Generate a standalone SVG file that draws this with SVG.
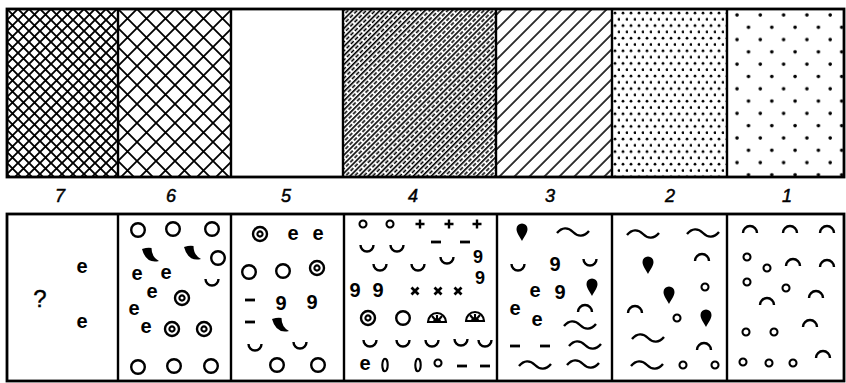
<svg xmlns="http://www.w3.org/2000/svg" width="846" height="383" viewBox="0 0 846 383">
<style>
.s{fill:none;stroke:#000;stroke-width:2.4}
.t{fill:none;stroke:#000;stroke-width:2.1}
.f{fill:#000}
.b{fill:none;stroke:#000;stroke-width:2.8}
.g{font-family:"Liberation Sans",Arial,sans-serif;font-weight:bold;font-size:20px;text-anchor:middle;fill:#000}
.n{font-family:"Liberation Sans",Arial,sans-serif;font-style:italic;font-size:18px;text-anchor:middle;fill:#000;stroke:#000;stroke-width:0.5}
</style>
<defs>
<pattern id="p7" patternUnits="userSpaceOnUse" x="7" y="9" width="11" height="11">
<path d="M-1,-1L12,12M-1,12L12,-1" stroke="#000" stroke-width="1.9"/>
</pattern>
<pattern id="p6" patternUnits="userSpaceOnUse" x="118" y="9" width="19" height="19">
<path d="M-1,-1L20,20M-1,20L20,-1" stroke="#000" stroke-width="1.8"/>
</pattern>
<pattern id="p4" patternUnits="userSpaceOnUse" x="0" y="0" width="12" height="6.4" patternTransform="rotate(-45)">
<path d="M-1,0.8H13" stroke="#000" stroke-width="1.6"/>
<path d="M1,4H5M7,4H11" stroke="#000" stroke-width="1.5"/>
</pattern>
<pattern id="p3" patternUnits="userSpaceOnUse" x="0" y="0" width="20" height="10.6" patternTransform="rotate(-45)">
<path d="M-1,1H21" stroke="#000" stroke-width="1.6"/>
</pattern>
<pattern id="p2" patternUnits="userSpaceOnUse" x="612" y="9" width="8" height="12.6">
<circle cx="3" cy="4" r="1.4" fill="#000"/>
<circle cx="7" cy="10.3" r="1.4" fill="#000"/>
</pattern>
<pattern id="p1" patternUnits="userSpaceOnUse" x="731" y="9" width="23.3" height="24.6">
<circle cx="6" cy="6" r="1.8" fill="#000"/>
<circle cx="17.5" cy="18.3" r="1.8" fill="#000"/>
</pattern>
<circle id="circ" r="6.8" class="s"/>
<g id="dcirc"><circle r="7" class="s"/><circle r="2.6" class="t"/></g>
<circle id="sc" r="3.5" class="t"/>
<path id="cup" d="M-6.5,-3A6.5,6.5 0 0 0 6.5,-3" class="s"/>
<path id="cap" d="M-7,3A7,7 0 0 1 7,3" class="s"/>
<path id="wave" d="M-16,1C-11,-5 -5,-5 0,0S11,5 16,-1" class="s"/>
<path id="tear" d="M0,9C-2,5 -5.5,1 -5.5,-3A5.5,5.5 0 0 1 5.5,-3C5.5,1 2,5 0,9Z" class="f"/>
<path id="horn" d="M-8,-6Q-2,-8 1.5,-7Q1.5,2 9,6Q-4,9 -8,-6Z" class="f"/>
<path id="dash" d="M-5,0H5" class="b"/>
<path id="plus" d="M-4.5,0H4.5M0,-4.5V4.5" class="s"/>
<path id="cross" d="M-3.5,-3.5L3.5,3.5M-3.5,3.5L3.5,-3.5" class="b"/>
<g id="fan"><path d="M-9,4A9,9 0 0 1 9,4Z" class="t"/><path d="M0,4L-5,-2M0,4L0,-3M0,4L5,-2M-3,4A3,3 0 0 1 3,4" class="t"/></g>
<ellipse id="ell" rx="2.7" ry="6.3" class="t"/>
</defs>

<g id="top-row">
<rect x="7" y="9" width="111" height="168" fill="url(#p7)"/>
<rect x="118" y="9" width="113" height="168" fill="url(#p6)"/>
<rect x="231" y="9" width="112" height="168" fill="#fff"/>
<rect x="343" y="9" width="153" height="168" fill="url(#p4)"/>
<rect x="496" y="9" width="116" height="168" fill="url(#p3)"/>
<rect x="612" y="9" width="115" height="168" fill="url(#p2)"/>
<rect x="727" y="9" width="117" height="168" fill="url(#p1)"/>
<rect x="7" y="9" width="837" height="168" class="b"/>
<path d="M118,9V177M231,9V177M343,9V177M496,9V177M612,9V177M727,9V177" class="s"/>
</g>

<g id="labels">
<text class="n" x="60" y="202">7</text>
<text class="n" x="171" y="202">6</text>
<text class="n" x="286" y="202">5</text>
<text class="n" x="413" y="202">4</text>
<text class="n" x="550" y="202">3</text>
<text class="n" x="670" y="202">2</text>
<text class="n" x="787" y="202">1</text>
</g>

<g id="bottom-row">
<rect x="7" y="214" width="837" height="167" class="b"/>
<path d="M118,214V381M231,214V381M344,214V381M497,214V381M612,214V381M727,214V381" class="s"/>
</g>

<g id="panel7">
<text class="g" x="82" y="273">e</text>
<text class="g" x="82" y="328">e</text>
<text x="40" y="307" font-family="Liberation Sans, Arial, sans-serif" font-size="24" text-anchor="middle" stroke="#000" stroke-width="0.4">?</text>
</g>

<g id="panel6">
<use href="#circ" x="138" y="230"/><use href="#circ" x="173" y="229"/><use href="#circ" x="212" y="229"/>
<use href="#horn" x="150" y="255"/><use href="#horn" x="192" y="253"/><use href="#circ" x="218" y="258"/>
<text class="g" x="137" y="280">e</text><text class="g" x="166" y="279">e</text>
<use href="#cup" x="212" y="282"/>
<text class="g" x="152" y="298">e</text>
<use href="#dcirc" x="182" y="298"/>
<text class="g" x="134" y="315">e</text>
<text class="g" x="146" y="333">e</text>
<use href="#dcirc" x="172" y="329"/><use href="#dcirc" x="204" y="329"/>
<use href="#circ" x="138" y="367"/><use href="#circ" x="174" y="366"/><use href="#circ" x="211" y="366"/>
</g>

<g id="panel5">
<use href="#dcirc" x="260" y="234"/>
<text class="g" x="293" y="240">e</text><text class="g" x="318" y="240">e</text>
<use href="#circ" x="249" y="272"/><use href="#circ" x="283" y="271"/><use href="#dcirc" x="317" y="268"/>
<use href="#dash" x="250" y="300"/>
<text class="g" x="281" y="310">9</text><text class="g" x="312" y="309">9</text>
<use href="#dash" x="250" y="322"/>
<use href="#horn" x="280" y="325"/>
<use href="#cup" x="255" y="347"/><use href="#cup" x="300" y="345"/>
<use href="#circ" x="277" y="365"/><use href="#circ" x="318" y="365"/>
</g>

<g id="panel4">
<use href="#sc" x="363" y="224"/><use href="#sc" x="390" y="224"/>
<use href="#plus" x="420" y="224"/><use href="#plus" x="449" y="224"/><use href="#plus" x="477" y="224"/>
<use href="#dash" x="436" y="242"/><use href="#dash" x="465" y="242"/>
<use href="#cup" x="367" y="248"/><use href="#cup" x="397" y="248"/>
<use href="#cup" x="380" y="267"/><use href="#cup" x="418" y="267"/><use href="#cup" x="447" y="260"/>
<text class="g" x="478" y="263" style="font-size:18px">9</text><text class="g" x="480" y="284" style="font-size:18px">9</text>
<text class="g" x="355" y="297">9</text><text class="g" x="378" y="297">9</text>
<use href="#cross" x="415" y="291"/><use href="#cross" x="438" y="291"/><use href="#cross" x="458" y="291"/>
<use href="#dcirc" x="368" y="318"/><use href="#circ" x="403" y="318"/>
<use href="#fan" x="437" y="318"/><use href="#fan" x="475" y="317"/>
<use href="#cup" x="370" y="343"/><use href="#cup" x="403" y="343"/><use href="#cup" x="432" y="343"/><use href="#cup" x="461" y="342"/><use href="#cup" x="485" y="343"/>
<text class="g" x="365" y="370">e</text>
<use href="#ell" x="385" y="365"/><use href="#ell" x="418" y="365"/>
<use href="#sc" x="438" y="363"/>
<use href="#dash" x="462" y="366"/><use href="#dash" x="485" y="366"/>
</g>

<g id="panel3">
<use href="#tear" x="522" y="232"/>
<use href="#wave" x="573" y="232"/>
<use href="#cup" x="518" y="267"/>
<text class="g" x="555" y="271">9</text>
<use href="#cup" x="590" y="262"/>
<text class="g" x="535" y="297">e</text>
<text class="g" x="560" y="299">9</text>
<use href="#tear" x="592" y="287"/>
<text class="g" x="515" y="315">e</text>
<use href="#cap" x="585" y="309"/>
<text class="g" x="537" y="326">e</text>
<use href="#wave" x="580" y="325"/>
<use href="#dash" x="515" y="346"/><use href="#dash" x="545" y="346"/>
<use href="#wave" x="585" y="345"/>
<use href="#wave" x="535" y="365"/><use href="#wave" x="583" y="364"/>
</g>

<g id="panel2">
<use href="#wave" x="643" y="234"/><use href="#wave" x="703" y="233"/>
<use href="#tear" x="648" y="265"/>
<use href="#cap" x="702" y="258"/>
<use href="#tear" x="669" y="295"/>
<use href="#sc" x="705" y="287"/>
<use href="#cap" x="635" y="310"/>
<use href="#sc" x="677" y="318"/>
<use href="#tear" x="706" y="318"/>
<use href="#wave" x="648" y="338"/>
<use href="#cap" x="704" y="347"/>
<use href="#wave" x="647" y="365"/>
<use href="#sc" x="683" y="365"/><use href="#sc" x="715" y="365"/>
</g>

<g id="panel1">
<use href="#cap" x="750" y="230"/><use href="#cap" x="790" y="230"/><use href="#cap" x="827" y="230"/>
<use href="#sc" x="747" y="257"/><use href="#sc" x="767" y="268"/>
<use href="#cap" x="793" y="263"/><use href="#cap" x="827" y="264"/>
<use href="#sc" x="747" y="282"/><use href="#sc" x="786" y="288"/>
<use href="#cap" x="816" y="295"/>
<use href="#cap" x="767" y="302"/>
<use href="#cap" x="810" y="324"/>
<use href="#sc" x="746" y="332"/><use href="#sc" x="774" y="332"/>
<use href="#sc" x="743" y="362"/><use href="#sc" x="769" y="363"/><use href="#sc" x="793" y="363"/>
<use href="#cap" x="823" y="355"/>
</g>
</svg>
